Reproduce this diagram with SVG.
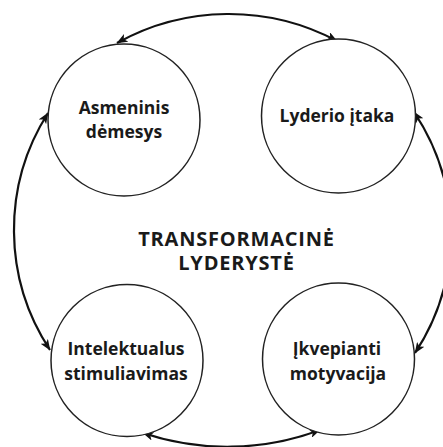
<svg xmlns="http://www.w3.org/2000/svg" width="443" height="447" viewBox="0 0 443 447">
<defs>
<marker id="arr" viewBox="0 0 10 8" refX="9.5" refY="4" markerWidth="11" markerHeight="8.8" markerUnits="userSpaceOnUse" orient="auto-start-reverse">
<path d="M0,0 L10,4 L0,8 L2.5,4 z" fill="#111"/>
</marker>
<style>
.node circle{fill:#fff;stroke:#222;stroke-width:1.5}
.node text,.title text{font-family:"Open Sans","Liberation Sans",sans-serif;font-weight:bold;font-size:17.5px;fill:#1a1a1a;text-anchor:middle}
.title text{font-size:20px;letter-spacing:0.8px}
.conn path{fill:none;stroke:#111;stroke-width:2.2;marker-start:url(#arr);marker-end:url(#arr)}
</style>
</defs>
<rect width="443" height="447" fill="#fff"/>
<g id="connectors" class="conn">
<path d="M117,43 A230,230 0 0 1 337,41"/>
<path d="M50,350 A218,218 0 0 1 48,113"/>
<path d="M414,112 A218,218 0 0 1 415,353"/>
<path d="M320,430 A265,265 0 0 1 143,433"/>
</g>
<g id="node-asmeninis" class="node">
<circle cx="124" cy="120" r="76"/>
<text x="124" y="114">Asmeninis</text>
<text x="124" y="138">dėmesys</text>
</g>
<g id="node-lyderio" class="node">
<circle cx="338.5" cy="116" r="77"/>
<text x="337" y="122">Lyderio įtaka</text>
</g>
<g id="node-intelektualus" class="node">
<circle cx="127" cy="360.5" r="76"/>
<text x="126" y="355">Intelektualus</text>
<text x="126" y="380">stimuliavimas</text>
</g>
<g id="node-ikvepianti" class="node">
<circle cx="338.5" cy="359" r="76"/>
<text x="337" y="355">Įkvepianti</text>
<text x="338" y="380">motyvacija</text>
</g>
<g id="title" class="title">
<text x="236.5" y="245.5">TRANSFORMACINĖ</text>
<text x="236.5" y="270">LYDERYSTĖ</text>
</g>
</svg>
